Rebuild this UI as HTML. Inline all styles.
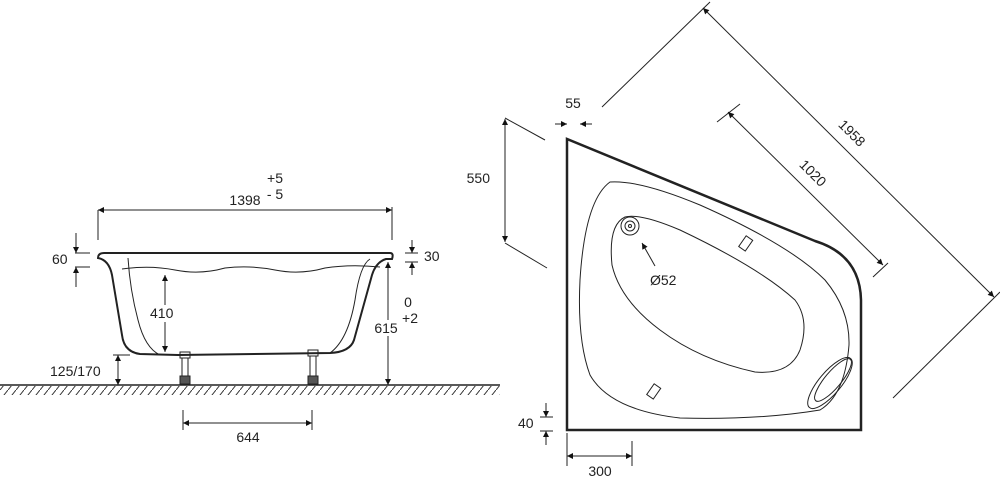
<!DOCTYPE html>
<html><head><meta charset="utf-8"><style>body{margin:0;background:#fff}svg{display:block}text{font-family:"Liberation Sans",sans-serif;font-size:14px;fill:#222}</style></head><body>
<svg width="1000" height="480" viewBox="0 0 1000 480" xmlns="http://www.w3.org/2000/svg">
<defs>
<marker id="a" viewBox="0 0 10 10" refX="10" refY="5" markerWidth="10" markerHeight="6" orient="auto-start-reverse" markerUnits="userSpaceOnUse"><path d="M0,0L10,5L0,10z" fill="#111"/></marker>
<pattern id="h" width="8" height="10" patternUnits="userSpaceOnUse"><path d="M0,10L8,0" stroke="#333" stroke-width="1"/></pattern>
</defs>
<g stroke="#222" fill="none" stroke-width="1">
<line x1="0" y1="385" x2="500" y2="385" stroke-width="1.5"/>
<rect x="0" y="386" width="500" height="9" fill="url(#h)" stroke="none"/>
<path d="M98,258 Q98,253 104,253 L390,253 Q394,253 392,259 L386,259 Q376,262 372,275 L354,340 Q350,352 330,353 L178,355 L140,354 Q124,352 122,335 L112,275 Q109,260 98,258z" stroke-width="2"/>
<path d="M128,258 Q130,290 138,320 Q145,348 160,355" />
<path d="M370,259 Q360,265 355,300 Q348,340 330,353"/>
<path d="M122,269 Q150,265 175,270 Q200,275 225,268 Q250,265 275,270 Q300,275 325,268 Q350,264 380,267"/>
<rect x="180" y="352" width="10" height="6"/><rect x="182" y="358" width="6" height="18"/><rect x="180" y="376" width="10" height="8" fill="#555"/>
<rect x="308" y="350" width="10" height="6"/><rect x="310" y="356" width="6" height="20"/><rect x="308" y="376" width="10" height="8" fill="#555"/>
<line x1="98" y1="210" x2="98" y2="240"/><line x1="392" y1="207" x2="392" y2="240"/>
<line x1="98" y1="210" x2="392" y2="210" marker-start="url(#a)" marker-end="url(#a)"/>
<line x1="75" y1="253" x2="90" y2="253"/><line x1="75" y1="267" x2="90" y2="267"/>
<line x1="76" y1="233" x2="76" y2="253" marker-end="url(#a)"/><line x1="76" y1="287" x2="76" y2="267" marker-end="url(#a)"/>
<line x1="405" y1="253" x2="418" y2="253"/><line x1="405" y1="262" x2="418" y2="262"/>
<line x1="412" y1="240" x2="412" y2="253" marker-end="url(#a)"/><line x1="412" y1="275" x2="412" y2="262" marker-end="url(#a)"/>
<line x1="388" y1="262" x2="388" y2="385" marker-start="url(#a)" marker-end="url(#a)"/>
<line x1="165" y1="275" x2="165" y2="352" marker-start="url(#a)" marker-end="url(#a)"/>
<line x1="113" y1="355" x2="130" y2="355"/>
<line x1="118" y1="355" x2="118" y2="385" marker-start="url(#a)" marker-end="url(#a)"/>
<line x1="183" y1="410" x2="183" y2="430"/><line x1="312" y1="410" x2="312" y2="430"/>
<line x1="183" y1="423" x2="312" y2="423" marker-start="url(#a)" marker-end="url(#a)"/>
<path d="M567,139 L567,430 L861,430 L861,300 Q860,255 815,241 Z" stroke-width="2.5"/>
<path d="M610,182 Q640,180 700,205 Q790,245 825,280 Q850,310 849,345 Q845,395 820,410 Q760,420 680,418 Q610,410 590,375 Q577,340 580,280 Q585,200 610,182z"/>
<path d="M625,217 Q640,213 680,230 Q760,268 795,300 Q810,320 800,350 Q790,375 755,372 Q700,360 660,330 Q620,300 612,265 Q608,225 625,217z"/>
<circle cx="630" cy="226" r="9"/><circle cx="630" cy="226" r="5"/><circle cx="630" cy="226" r="1.5"/>
<line x1="655" y1="266" x2="642" y2="243" marker-end="url(#a)"/>
<rect x="742" y="237" width="8" height="13" transform="rotate(35 746 243)"/>
<rect x="650" y="385" width="8" height="13" transform="rotate(35 654 391)"/>
<ellipse cx="830" cy="383" rx="32" ry="11" transform="rotate(-50 830 383)"/>
<ellipse cx="833" cy="380" rx="27" ry="8" transform="rotate(-50 833 380)"/>
<line x1="555" y1="124" x2="567" y2="124" marker-end="url(#a)"/><line x1="592" y1="124" x2="580" y2="124" marker-end="url(#a)"/>
<line x1="505" y1="118" x2="545" y2="140"/><line x1="505" y1="243" x2="547" y2="268"/>
<line x1="505" y1="119" x2="505" y2="242" marker-start="url(#a)" marker-end="url(#a)"/>
<line x1="540" y1="417" x2="553" y2="417"/><line x1="540" y1="431" x2="553" y2="431"/>
<line x1="546" y1="403" x2="546" y2="417" marker-end="url(#a)"/><line x1="546" y1="445" x2="546" y2="431" marker-end="url(#a)"/>
<line x1="567" y1="433" x2="567" y2="466"/><line x1="632" y1="441" x2="632" y2="466"/>
<line x1="567" y1="456" x2="632" y2="456" marker-start="url(#a)" marker-end="url(#a)"/>
<line x1="602" y1="107" x2="710" y2="2"/><line x1="893" y1="398" x2="1000" y2="292"/>
<line x1="703" y1="8" x2="994" y2="297" marker-start="url(#a)" marker-end="url(#a)"/>
<line x1="717" y1="122" x2="740" y2="104"/><line x1="873" y1="277" x2="888" y2="263"/>
<line x1="728" y1="112" x2="883" y2="265" marker-start="url(#a)" marker-end="url(#a)"/>
</g>
<text x="275" y="183" text-anchor="middle">+5</text><text x="275" y="199" text-anchor="middle">- 5</text>
<text x="245" y="205" text-anchor="middle">1398</text>
<text x="52" y="264">60</text><text x="424" y="261">30</text>
<rect x="147" y="305" width="30" height="17" fill="#fff"/>
<text x="150" y="318">410</text>
<rect x="372" y="320" width="28" height="16" fill="#fff"/>
<text x="386" y="333" text-anchor="middle">615</text><text x="408" y="307" text-anchor="middle">0</text><text x="410" y="323" text-anchor="middle">+2</text>
<text x="50" y="376">125/170</text>
<text x="248" y="442" text-anchor="middle">644</text>
<text x="573" y="108" text-anchor="middle">55</text>
<text x="490" y="183" text-anchor="end">550</text>
<text x="518" y="428">40</text>
<text x="600" y="476" text-anchor="middle">300</text>
<text x="650" y="285">Ø52</text>
<text x="852" y="138" text-anchor="middle" transform="rotate(45 852 133)">1958</text>
<text x="813" y="178" text-anchor="middle" transform="rotate(45 813 173)">1020</text>
</svg>
</body></html>
